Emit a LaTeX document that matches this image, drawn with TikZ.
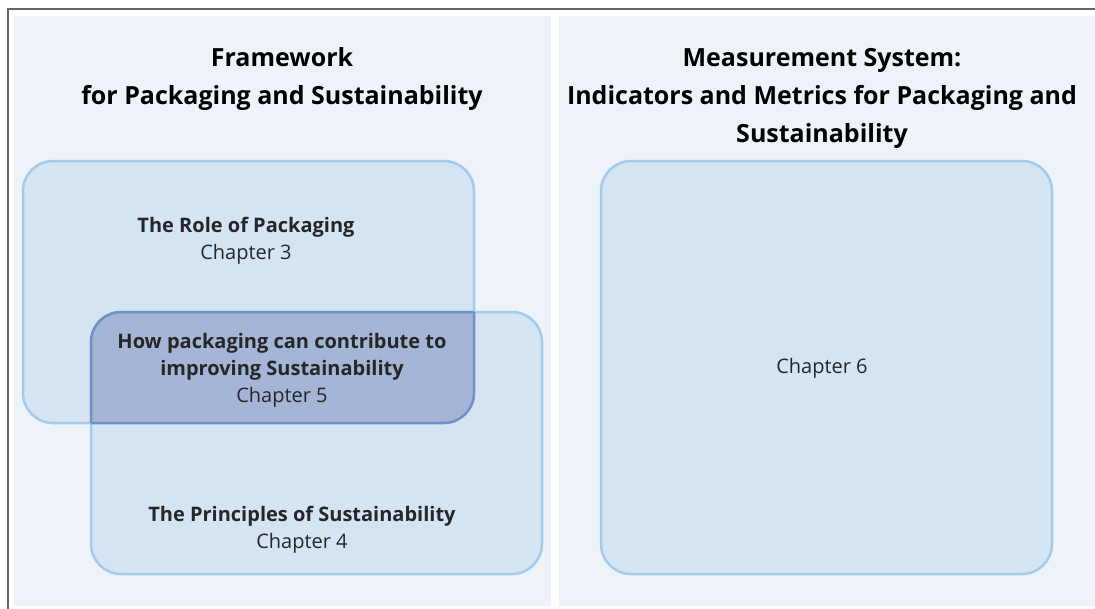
\documentclass[tikz,border=0pt]{standalone}
\usepackage{fontspec}
\setmainfont{Open Sans}

\def\roleBox{(23,161) rectangle (474,423)}
\def\principlesBox{(91,312) rectangle (542,574)}
\def\measureBox{(601,161) rectangle (1052,574)}
\definecolor{box area}{RGB}{212,228,243}
\definecolor{box edge}{RGB}{162,202,234}
\definecolor{overlap area}{RGB}{165,181,216}
\definecolor{overlap edge}{RGB}{110,145,200}
\definecolor{panel area}{RGB}{238,243,250}
\tikzset{
  panel/.style={fill=panel area},
  filled/.style={fill=box area, draw=box edge, line width=2.5pt, rounded corners=30pt},
  outline/.style={draw=overlap edge, line width=2.5pt, rounded corners=30pt}
  }
\tikzstyle{title}=[align=center, font=\bfseries\fontsize{25}{38}\selectfont]
\tikzstyle{label}=[align=center, font=\fontsize{20}{27}\selectfont, text=black!85]

\begin{document}
\begin{tikzpicture}[x=1pt, y=-1pt]
  \useasboundingbox (0,0) rectangle (1095,608);
  \draw[black!60, line width=2.2pt] (8,620) -- (8,9) -- (1100,9);
  \fill[panel] (14,16) rectangle (551,606);
  \fill[panel] (559,16) rectangle (1095,606);

  \draw[filled] \roleBox;
  \draw[filled] \principlesBox;
  \draw[filled] \measureBox;

  \begin{scope}
    \clip[rounded corners=30pt] \roleBox;
    \fill[overlap area, rounded corners=30pt] \principlesBox;
    \draw[outline] \principlesBox;
  \end{scope}
  \begin{scope}
    \clip[rounded corners=30pt] \principlesBox;
    \draw[outline] \roleBox;
  \end{scope}

  \node[title] (framework) at (282,79) {Framework\\for Packaging and Sustainability};
  \node[title] (measurement) at (822,98) {Measurement System:\\Indicators and Metrics for Packaging and\\Sustainability};

  \node[label] (role) at (246,241) {\textbf{The Role of Packaging}\\Chapter 3};
  \node[label] (contribute) at (282,370) {\textbf{How packaging can contribute to}\\\textbf{improving Sustainability}\\Chapter 5};
  \node[label] (principles) at (302,530) {\textbf{The Principles of Sustainability}\\Chapter 4};
  \node[label] (chapter6) at (822,368) {Chapter 6};
\end{tikzpicture}
\end{document}
